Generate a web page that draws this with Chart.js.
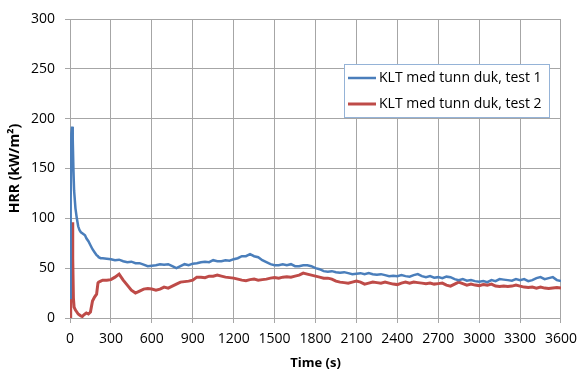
<!DOCTYPE html>
<html>
<head>
<meta charset="utf-8">
<script src="https://cdn.jsdelivr.net/npm/chart.js@4.4.1/dist/chart.umd.min.js"></script>
<style>
  html, body { margin: 0; padding: 0; background: #fff; }
  #wrap { width: 585px; height: 371px; position: relative; }
</style>
</head>
<body>
<div id="wrap"><canvas id="myChart" width="585" height="371"></canvas></div>
<script>
// time (s)
const times = [
  0, 5, 10, 15, 20, 25, 30, 40, 50, 60, 70, 80, 90, 100, 110, 120, 135, 150, 165, 180, 195, 205, 210, 225, 240,
  270, 300, 330, 360, 390, 420, 450, 480, 510, 540, 570, 600, 630, 660, 690, 720, 750, 780, 810, 840, 870, 900,
  930, 960, 990, 1020, 1050, 1080, 1110, 1140, 1170, 1200, 1230, 1260, 1290, 1320, 1350, 1380, 1410, 1440, 1470, 1500,
  1530, 1560, 1590, 1620, 1650, 1680, 1710, 1740, 1770, 1800, 1830, 1860, 1890, 1920, 1950, 1980, 2010, 2040, 2070, 2100,
  2130, 2160, 2190, 2220, 2250, 2280, 2310, 2340, 2370, 2400, 2430, 2460, 2490, 2520, 2550, 2580, 2610, 2640, 2670, 2700,
  2730, 2760, 2790, 2820, 2850, 2880, 2910, 2940, 2970, 3000, 3030, 3060, 3090, 3120, 3150, 3180, 3210, 3240, 3270, 3300,
  3330, 3360, 3390, 3420, 3450, 3480, 3510, 3540, 3570, 3600
]

// KLT med tunn duk, test 1 (kW/m2)
const test1 = [
  20, 120, 185, 192, 180, 150, 128, 110, 100, 92, 88, 86, 85, 84, 83, 80, 77, 73, 69, 66, 63, 62, 61, 60, 60,
  59.5, 59, 58, 58.5, 57, 56, 56.5, 55, 55, 53.5, 52, 52.5, 53, 54, 53.5, 54, 52, 50, 52, 54, 53, 54.5,
  55, 56, 56.5, 56, 58, 57, 57, 58, 57.5, 59, 60, 62, 62, 64, 62, 61, 58, 56, 54, 53,
  53, 54, 53, 54, 52, 52, 53, 53, 52, 50, 49, 47, 46.5, 47, 46, 45.5, 46, 45, 44, 44.5,
  45, 44, 45, 44, 43.5, 44, 43, 42, 42.5, 42, 43, 42, 41.5, 43, 44, 42, 41, 42, 40.5, 41,
  40, 41.5, 41, 39, 38, 39, 37.5, 38, 37, 36.5, 37, 36, 38, 37, 39, 38.5, 38, 37.5, 39, 38,
  39, 37, 38, 40, 41, 39, 40, 41, 38, 37
]

// KLT med tunn duk, test 2 (kW/m2)
const test2 = [
  0, 40, 90, 96, 60, 20, 11, 8, 6, 4, 3, 2, 1.5, 3, 4, 5, 4, 6, 17, 21, 24, 35, 36, 37, 38,
  38, 38.5, 41, 44, 38, 33, 28, 25, 27, 29, 29.5, 29, 28, 29, 31, 30, 32, 34, 36, 36.5, 37, 38,
  41, 41, 40.5, 42, 42, 43, 42, 41, 40.5, 40, 39, 38, 37.5, 38.5, 39, 38, 38.5, 39, 40, 40.5,
  40, 41, 41.5, 41, 42, 43, 45, 44, 43, 42, 41, 40, 40, 39, 37, 36, 35.5, 35, 36, 37,
  36, 34, 35, 36, 35.5, 35, 36, 35, 34, 33.5, 35, 36, 35, 36, 35.5, 35, 34.5, 35, 34, 34.5,
  35, 33, 32, 34, 36, 34.5, 33, 34, 33, 32.5, 33.5, 33, 34, 32, 31.5, 32, 31.5, 32, 33, 32,
  31, 30.5, 31, 30, 31, 30, 29.5, 30, 30.5, 30
]

const seriesLabels = ['KLT med tunn duk, test 1', 'KLT med tunn duk, test 2']
const xTitle = 'Time (s)'
const yTitle = 'HRR (kW/m\u00B2)'

const blue = '#4A7EBB'
const red = '#BE4B48'
const gridColor = '#A6A6A6'
const fontFamily = "'Open Sans', 'Liberation Sans', sans-serif"

// legend drawn inside the plot area, like the original
const boxLegend = {
  id: 'boxLegend',
  afterDraw(chart) {
    const ctx = chart.ctx
    const x = 344.5, y = 64.5, w = 205, h = 53
    ctx.save()
    ctx.fillStyle = '#fff'
    ctx.fillRect(x, y, w, h)
    ctx.strokeStyle = '#95B3D7'
    ctx.lineWidth = 1
    ctx.strokeRect(x, y, w, h)
    chart.data.datasets.forEach((ds, i) => {
      const ly = 78 + i * 26
      ctx.strokeStyle = ds.borderColor
      ctx.lineWidth = ds.borderWidth
      ctx.beginPath()
      ctx.moveTo(348, ly)
      ctx.lineTo(376, ly)
      ctx.stroke()
      ctx.fillStyle = '#000'
      ctx.font = '14px ' + fontFamily
      ctx.textBaseline = 'middle'
      ctx.fillText(ds.label, 379, ly)
    })
    ctx.restore()
  }
}

const el = document.getElementById('myChart')
const myChart = new Chart(el, {
  type: 'line',
  data: {
    datasets: [
      {
        label: seriesLabels[0],
        data: times.map((t, i) => ({ x: t, y: test1[i] })),
        borderColor: blue,
        borderWidth: 2.5,
        pointRadius: 0,
        tension: 0
      },
      {
        label: seriesLabels[1],
        data: times.map((t, i) => ({ x: t, y: test2[i] })),
        borderColor: red,
        borderWidth: 3,
        pointRadius: 0,
        tension: 0
      }
    ]
  },
  options: {
    responsive: false,
    animation: false,
    layout: { padding: { left: 0, right: 19, top: 19, bottom: 0 } },
    plugins: {
      legend: { display: false },
      tooltip: { enabled: false }
    },
    scales: {
      x: {
        type: 'linear',
        min: 0,
        max: 3600,
        afterFit: s => { s.height = 53 },
        ticks: {
          stepSize: 300, color: '#000', font: { family: fontFamily, size: 14 }, padding: 8, maxRotation: 0,
          callback: v => String(v)
        },
        grid: { color: gridColor, tickLength: 5 },
        border: { color: gridColor },
        title: { display: true, text: xTitle, color: '#000', font: { family: fontFamily, size: 13, weight: 'bold' }, padding: { top: 0, bottom: 0 } }
      },
      y: {
        min: 0,
        max: 300,
        afterFit: s => { s.width = 70 },
        ticks: { stepSize: 50, color: '#000', font: { family: fontFamily, size: 14 }, padding: 10 },
        grid: { color: gridColor, tickLength: 5 },
        border: { color: gridColor },
        title: { display: true, text: yTitle, color: '#000', font: { family: fontFamily, size: 14, weight: 'bold' }, padding: { top: 7, bottom: 0 } }
      }
    }
  },
  plugins: [boxLegend]
})
</script>
</body>
</html>
